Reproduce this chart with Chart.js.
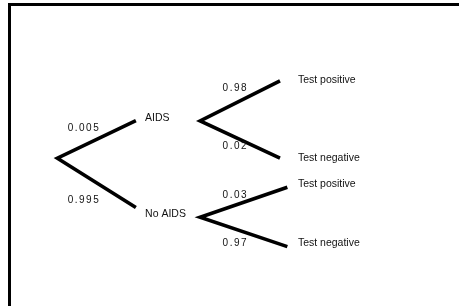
<!DOCTYPE html>
<html>
<head>
<meta charset="utf-8">
<script src="https://cdn.jsdelivr.net/npm/chart.js@4/dist/chart.umd.min.js"></script>
<style>
  html, body { margin: 0; padding: 0; background: #fff; }
  #wrap { width: 459px; height: 306px; }
</style>
</head>
<body>
<div id="wrap"><canvas id="arbol" width="459" height="306"></canvas></div>
<script>
// --------------------- DATOS DEL ARBOL (unidades 0-100) ---------------------
// cada rama: [extremo superior, vertice, extremo inferior]
const forkX = [
  [29.6, 12.5, 29.6],
  [61.0, 43.6, 61.0],
  [62.6, 43.6, 62.6]
];
const forkY = [
  [39.4, 51.7, 67.8],
  [26.4, 39.5, 51.7],
  [61.2, 71.0, 80.6]
];

// nombres de los nodos y donde van
const nodeLabels = ['AIDS', 'No AIDS', 'Test positive', 'Test negative', 'Test positive', 'Test negative'];
const nodeX = [31.6, 31.6, 64.9, 64.9, 64.9, 64.9];
const nodeY = [38.6, 69.9, 26.1, 51.6, 60.1, 79.4];

// probabilidades de cada rama
const probLabels = ['0.005', '0.995', '0.98', '0.02', '0.03', '0.97'];
const probX = [14.75, 14.75, 48.5, 48.5, 48.5, 48.5];
const probY = [41.8, 65.4, 28.8, 47.9, 63.7, 79.4];


// --------------------- DATASETS ---------------------
const datasets = forkX.map((xs, i) => ({
  data: xs.map((x, j) => ({ x: x, y: forkY[i][j] })),
  showLine: true,
  borderColor: '#000',
  borderWidth: 3.6,
  borderCapStyle: 'butt',
  borderJoinStyle: 'miter',
  pointRadius: 0,
  fill: false
}));


// --------------------- PLUGIN: marco y textos ---------------------
const textos = {
  id: 'textos',
  afterDatasetsDraw(chart) {
    const c = chart.ctx;
    const sx = chart.scales.x;
    const sy = chart.scales.y;
    c.save();

    // marco (solo se ve arriba y a la izquierda)
    c.strokeStyle = '#000';
    c.lineWidth = 3;
    c.beginPath();
    c.moveTo(9.5, chart.height + 5);
    c.lineTo(9.5, 4.5);
    c.lineTo(chart.width + 5, 4.5);
    c.stroke();

    c.fillStyle = '#111';
    c.textAlign = 'left';
    c.textBaseline = 'middle';

    // nodos
    c.font = '10.5px "Liberation Sans", Arial, sans-serif';
    nodeLabels.forEach((t, i) => {
      c.fillText(t, sx.getPixelForValue(nodeX[i]), sy.getPixelForValue(nodeY[i]));
    });

    // probabilidades
    c.font = '10px "Liberation Sans", Arial, sans-serif';
    c.letterSpacing = '1.5px';
    probLabels.forEach((t, i) => {
      c.fillText(t, sx.getPixelForValue(probX[i]), sy.getPixelForValue(probY[i]));
    });
    c.restore();
  }
};


// --------------------- GRAFICA ---------------------
new Chart(document.getElementById('arbol'), {
  type: 'scatter',
  data: { datasets: datasets },
  options: {
    responsive: false,
    animation: false,
    layout: { padding: 0 },
    plugins: {
      legend: { display: false },
      tooltip: { enabled: false }
    },
    scales: {
      x: { type: 'linear', min: 0, max: 100, display: false },
      y: { type: 'linear', min: 0, max: 100, reverse: true, display: false }
    }
  },
  plugins: [textos]
});
</script>
</body>
</html>
